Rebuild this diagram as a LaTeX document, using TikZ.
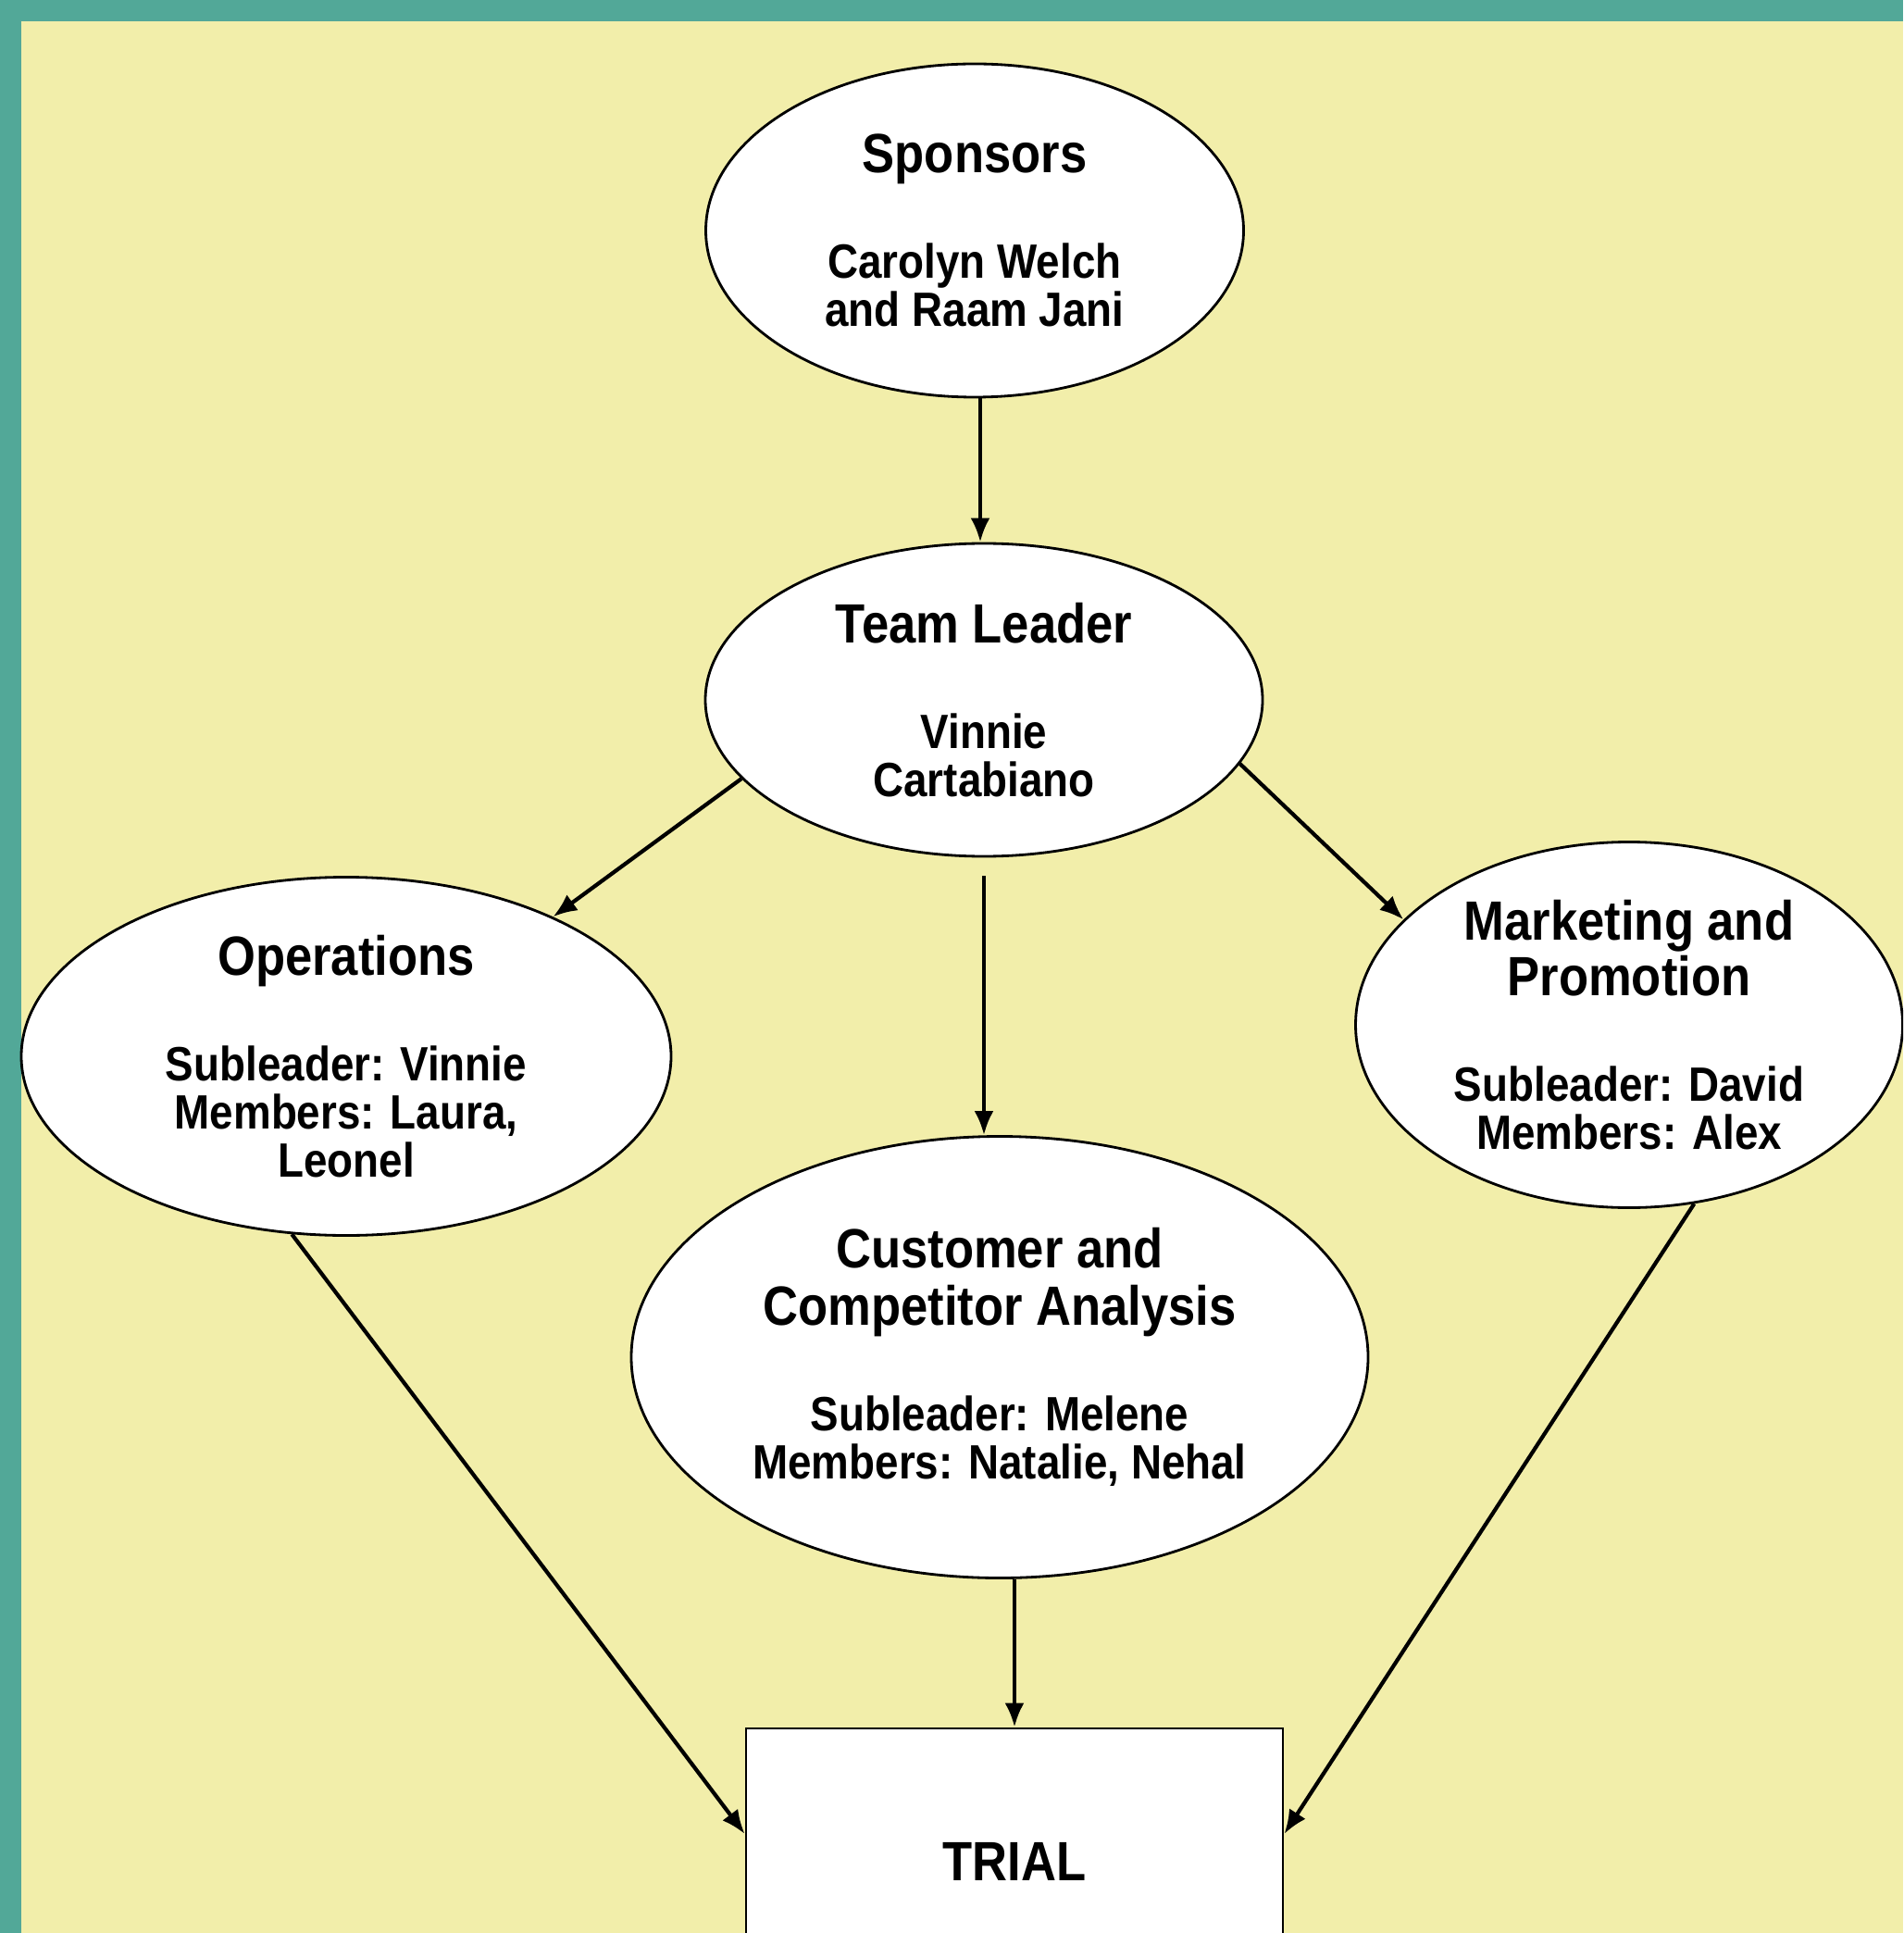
\documentclass[tikz,border=0pt]{standalone}
\usepackage{fontspec}
\setmainfont{Liberation Sans}
\newfontfamily\diagfont[FakeStretch=0.88]{Liberation Sans}
\usetikzlibrary{shapes.geometric,arrows.meta}
\definecolor{frameteal}{RGB}{82,168,152}
\definecolor{paper}{RGB}{242,238,170}
\newcommand{\ttl}{\fontsize{17pt}{20pt}\selectfont}
\newcommand{\sbt}{\fontsize{14.8pt}{14.8pt}\selectfont}
\begin{document}
\begin{tikzpicture}[team/.style={ellipse, draw, fill=white, line width=0.8pt, align=center, inner sep=0pt, font=\diagfont\bfseries\sbt},
  link/.style={-{Latex[length=2.6mm,width=2.1mm]}, line width=1.2pt}]
\useasboundingbox (0,0) rectangle (20.56,-20.88);
\clip (0,0) rectangle (20.56,-20.88);
\fill[frameteal] (0,0) rectangle (20.56,-20.88);
\fill[paper] (0.23,-0.23) rectangle (20.56,-20.88);
\node[team, minimum width=5.81cm, minimum height=3.60cm] (spon) at (10.53,-2.49) {{\ttl Sponsors}\\[6.2mm]Carolyn Welch\\and Raam Jani};
\node[team, minimum width=6.02cm, minimum height=3.38cm] (lead) at (10.63,-7.56) {{\ttl Team Leader}\\[6.2mm]Vinnie\\Cartabiano};
\node[team, minimum width=7.02cm, minimum height=3.87cm] (ops) at (3.74,-11.41) {{\ttl Operations}\\[6.2mm]Subleader: Vinnie\\Members: Laura,\\Leonel};
\node[team, minimum width=5.91cm, minimum height=3.95cm] (mkt) at (17.60,-11.07) {{\ttl Marketing and}\\[0mm]{\ttl Promotion}\\[6.2mm]Subleader: David\\Members: Alex};
\node[team, minimum width=7.96cm, minimum height=4.77cm] (cca) at (10.80,-14.66) {{\ttl Customer and}\\[1mm]{\ttl Competitor Analysis}\\[6.2mm]Subleader: Melene\\Members: Natalie, Nehal};
\node[draw, fill=white, line width=0.8pt, minimum width=5.80cm, minimum height=2.88cm, font=\diagfont\bfseries\ttl] (trial) at (10.96,-20.11) {TRIAL};
\draw[link] ([xshift=0.6mm]spon.south) -- ([xshift=0.6mm]spon.south |- lead.north);
\draw[link] (lead.198) -- (ops.34);
\draw[link] (lead.346) -- (mkt.155);
\draw[link] ([yshift=-2mm]lead.south) -- (lead.south |- cca.north);
\draw[link] (ops.253) -- ([yshift=3mm]trial.west);
\draw[link] (mkt.290) -- ([yshift=3mm]trial.east);
\draw[link] (trial.north |- cca.south) -- (trial.north);
\end{tikzpicture}
\end{document}
